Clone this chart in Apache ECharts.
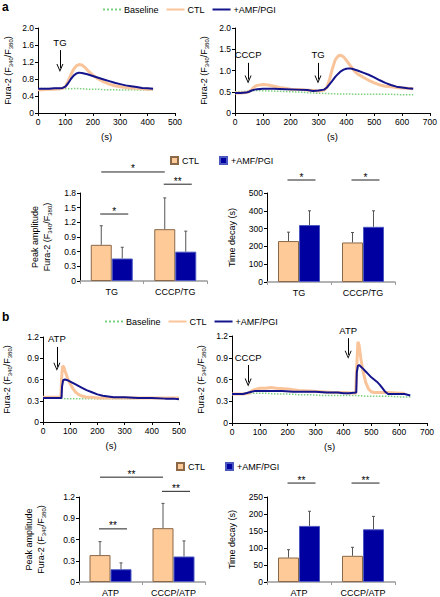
<!DOCTYPE html>
<html><head><meta charset="utf-8">
<script src="https://cdn.jsdelivr.net/npm/echarts@6/dist/echarts.min.js"></script>
<style>html,body{margin:0;padding:0;background:#fff}#c{width:440px;height:597px}</style>
</head><body><div id="c"></div>
<script>
// ---------- DATA ----------
// Panel a, TG trace: [time (s), Fura-2 ratio]
const aTG_base = [[0,0.57],[20,0.58],[40,0.57],[60,0.58],[80,0.58],[100,0.57],[120,0.57],[140,0.58],[160,0.57],[180,0.56],[200,0.56],[220,0.56],[240,0.55],[260,0.55],[280,0.55],[300,0.54],[320,0.54],[340,0.55],[360,0.54],[380,0.54],[400,0.54],[420,0.54]];
const aTG_ctl = [[0,0.55],[20,0.55],[40,0.56],[60,0.56],[80,0.57],[90,0.58],[100,0.62],[110,0.75],[120,0.9],[130,1.03],[140,1.11],[150,1.14],[160,1.13],[170,1.08],[180,1.01],[190,0.95],[200,0.89],[220,0.8],[240,0.73],[260,0.68],[280,0.64],[300,0.62],[320,0.6],[340,0.59],[360,0.58],[380,0.57],[400,0.56],[420,0.56]];
const aTG_amf = [[0,0.57],[20,0.57],[40,0.57],[60,0.58],[80,0.58],[90,0.59],[100,0.62],[110,0.7],[120,0.8],[130,0.88],[140,0.93],[150,0.95],[160,0.94],[180,0.91],[200,0.87],[220,0.83],[240,0.79],[260,0.75],[280,0.71],[300,0.68],[320,0.65],[340,0.63],[360,0.61],[380,0.59],[400,0.58],[420,0.57]];
// Panel a, CCCP/TG trace
const aCT_base = [[0,0.5],[40,0.51],[80,0.53],[120,0.52],[160,0.51],[200,0.5],[240,0.49],[280,0.47],[320,0.46],[360,0.45],[400,0.45],[440,0.44],[480,0.44],[520,0.44],[560,0.44],[600,0.43],[640,0.43]];
const aCT_ctl = [[0,0.47],[20,0.47],[40,0.48],[50,0.5],[60,0.55],[70,0.62],[80,0.65],[100,0.67],[120,0.66],[140,0.63],[160,0.6],[180,0.58],[200,0.56],[240,0.55],[280,0.53],[300,0.52],[320,0.54],[330,0.6],[340,0.8],[350,1.05],[360,1.25],[370,1.34],[380,1.36],[390,1.32],[400,1.24],[410,1.15],[420,1.06],[430,0.98],[440,0.92],[460,0.84],[480,0.77],[500,0.71],[520,0.66],[540,0.63],[560,0.62],[580,0.6],[600,0.59],[620,0.58],[640,0.57]];
const aCT_amf = [[0,0.47],[20,0.47],[40,0.48],[50,0.5],[60,0.53],[70,0.55],[80,0.56],[100,0.57],[140,0.57],[180,0.56],[220,0.55],[260,0.54],[280,0.52],[300,0.53],[320,0.55],[330,0.6],[340,0.68],[350,0.76],[360,0.85],[370,0.92],[380,0.98],[390,1.02],[400,1.04],[410,1.05],[420,1.04],[440,1.0],[460,0.95],[480,0.9],[500,0.84],[520,0.77],[540,0.71],[560,0.66],[580,0.62],[600,0.6],[620,0.58],[640,0.57]];
// Panel b, ATP trace
const bATP_base = [[0,0.35],[20,0.35],[40,0.34],[60,0.34],[80,0.33],[100,0.33],[140,0.33],[180,0.33],[220,0.33],[260,0.33],[300,0.33],[340,0.33],[380,0.34],[420,0.34],[460,0.34],[500,0.34]];
const bATP_ctl = [[0,0.35],[20,0.35],[40,0.35],[60,0.35],[66,0.36],[68,0.6],[72,0.79],[76,0.78],[80,0.73],[90,0.62],[100,0.54],[110,0.47],[120,0.42],[130,0.39],[140,0.37],[160,0.35],[180,0.35],[200,0.34],[250,0.34],[300,0.34],[350,0.34],[400,0.34],[450,0.34],[500,0.34]];
const bATP_amf = [[0,0.34],[20,0.34],[40,0.34],[60,0.34],[68,0.34],[70,0.5],[74,0.59],[80,0.6],[90,0.59],[100,0.57],[120,0.53],[140,0.49],[160,0.45],[180,0.42],[200,0.39],[220,0.37],[240,0.36],[260,0.35],[300,0.35],[350,0.34],[400,0.34],[450,0.33],[480,0.33],[500,0.32]];
// Panel b, CCCP/ATP trace
const bCA_base = [[0,0.4],[40,0.4],[80,0.41],[120,0.41],[160,0.4],[200,0.4],[240,0.39],[280,0.39],[320,0.38],[360,0.38],[400,0.38],[440,0.38],[480,0.37],[520,0.37],[560,0.37],[600,0.36],[640,0.36]];
const bCA_ctl = [[0,0.4],[40,0.4],[60,0.41],[70,0.44],[80,0.46],[100,0.48],[120,0.48],[140,0.49],[160,0.48],[200,0.47],[240,0.45],[280,0.44],[320,0.43],[360,0.42],[400,0.42],[444,0.41],[448,0.8],[452,1.12],[456,1.08],[462,0.9],[470,0.72],[480,0.56],[490,0.47],[500,0.43],[510,0.42],[530,0.42],[560,0.42],[600,0.41],[620,0.41]];
const bCA_amf = [[0,0.4],[20,0.4],[40,0.4],[50,0.41],[60,0.42],[70,0.43],[80,0.44],[100,0.44],[140,0.44],[180,0.44],[220,0.43],[260,0.43],[300,0.43],[340,0.42],[380,0.42],[400,0.41],[420,0.41],[446,0.42],[448,0.7],[452,0.79],[456,0.8],[462,0.78],[470,0.75],[480,0.71],[490,0.67],[500,0.63],[510,0.6],[520,0.57],[530,0.53],[540,0.48],[550,0.43],[560,0.4],[580,0.4],[600,0.4],[620,0.4],[630,0.39],[640,0.38]];
// Stimulus arrows: [label, time, value at arrow top, value at arrow tip]
const aTG_arrows = [['TG',80,1.48,1.06]];
const aCT_arrows = [['CCCP',47,1.18,0.79],['TG',298,1.18,0.79]];
const bATP_arrows = [['ATP',51,1.06,0.78]];
const bCA_arrows = [['CCCP',58,0.8,0.56],['ATP',417,1.17,0.94]];
// Bar charts
const aCats = ['TG','CCCP/TG'];
const bCats = ['ATP','CCCP/ATP'];
const aPeakCTL = [0.74,1.06], aPeakCTLsd = [0.39,0.64];
const aPeakAMF = [0.46,0.60], aPeakAMFsd = [0.23,0.42];
const aDecayCTL = [230,222], aDecayCTLsd = [50,56];
const aDecayAMF = [320,310], aDecayAMFsd = [80,90];
const bPeakCTL = [0.38,0.76], bPeakCTLsd = [0.19,0.35];
const bPeakAMF = [0.18,0.36], bPeakAMFsd = [0.09,0.22];
const bDecayCTL = [72,77], bDecayCTLsd = [23,25];
const bDecayAMF = [165,155], bDecayAMFsd = [43,38];
// Significance: [catA, barA(0=CTL,1=AMF), catB, barB, level, label]
const aPeakSig = [[0,0,0,1,1.37,'*'],[1,0,1,1,1.98,'**'],[0,0,1,0,2.23,'*']];
const aDecaySig = [[0,0,0,1,573,'*'],[1,0,1,1,573,'*']];
const bPeakSig = [[0,0,0,1,0.75,'**'],[1,0,1,1,1.28,'**'],[0,0,1,0,1.48,'**']];
const bDecaySig = [[0,0,0,1,291,'**'],[1,0,1,1,291,'**']];

// ---------- STYLE ----------
const F = '"Liberation Sans", Arial, Helvetica, sans-serif';
const C_ORANGE = '#f9c49a', C_BLUE = '#14148c', C_GREEN = '#7ccf7c';
const BAR_OR = '#fdca98', BAR_BL = '#0000a0';
const BW = 21;
const furaName = '{n|Fura-2 (F}{s|340}{n|/F}{s|380}{n|)}';
const nameRich = {
  n:{fontSize:9,lineHeight:12,fontFamily:F,color:'#000'},
  s:{fontSize:6,lineHeight:6,verticalAlign:'bottom',fontFamily:F,color:'#000'}
};

const grids = [
  {left:38, top:28, width:137, height:85},
  {left:235, top:28, width:195, height:85},
  {left:80, top:193, width:127, height:88},
  {left:267, top:193, width:128, height:89},
  {left:43, top:337, width:136, height:85},
  {left:232, top:336, width:195, height:87},
  {left:79, top:497, width:126, height:86},
  {left:267, top:497, width:128, height:86}
];

function fmt1(v){ return v===0 ? '0' : v.toFixed(1); }
function lineX(gi, max){
  return {type:'value', gridIndex:gi, min:0, max:max, interval:100,
    name:'(s)', nameLocation:'middle', nameGap:18,
    nameTextStyle:{fontSize:9.5, fontFamily:F, color:'#000'},
    axisLine:{show:true, onZero:false, lineStyle:{color:'#000', width:1}},
    axisTick:{show:true, length:3, lineStyle:{color:'#000'}},
    axisLabel:{fontSize:8.5, fontFamily:F, color:'#000', margin:4},
    splitLine:{show:false}};
}
function valY(gi, max, interval, name, gap, dec){
  return {type:'value', gridIndex:gi, min:0, max:max, interval:interval,
    name:name, nameLocation:'middle', nameGap:gap,
    nameTextStyle:{fontSize:9, fontFamily:F, color:'#000', rich:nameRich},
    axisLine:{show:true, lineStyle:{color:'#000', width:1}},
    axisTick:{show:true, length:3, lineStyle:{color:'#000'}},
    axisLabel:{fontSize:8.5, fontFamily:F, color:'#000', margin:4, formatter: dec ? fmt1 : (v=>String(v))},
    splitLine:{show:false}};
}
function catX(gi, cats){
  return {type:'category', gridIndex:gi, data:cats,
    axisLine:{show:true, lineStyle:{color:'#9a9a9a', width:1.5}},
    axisTick:{show:true, length:3, alignWithLabel:false, lineStyle:{color:'#9a9a9a'}},
    axisLabel:{fontSize:9, fontFamily:F, color:'#000', margin:6},
    splitLine:{show:false}};
}

function arrowMark(arr){
  return {silent:true, symbol:['none','path://M5 0 L10 8 L8.6 8 L5 2.2 L1.4 8 L0 8 Z'], symbolSize:[7,8],
    lineStyle:{color:'#000', width:1, type:'solid'},
    label:{show:true, position:'start', formatter:'{b}', fontSize:9.5, fontFamily:F, color:'#000', distance:3},
    emphasis:{disabled:true},
    data: arr.map(a => [{name:a[0], coord:[a[1],a[2]]},{coord:[a[1],a[3]]}])};
}

function traceSeries(gi, base, ctl, amf, arrows){
  return [
    {name:'Baseline', type:'line', xAxisIndex:gi, yAxisIndex:gi, data:base, symbol:'none', silent:true,
      lineStyle:{color:C_GREEN, width:1.5, type:'dotted'}, itemStyle:{color:C_GREEN}, z:2,
      markLine: arrowMark(arrows)},
    {name:'CTL', type:'line', xAxisIndex:gi, yAxisIndex:gi, data:ctl, symbol:'none', silent:true,
      lineStyle:{color:C_ORANGE, width:3}, itemStyle:{color:C_ORANGE}, z:3},
    {name:'+AMF/PGI', type:'line', xAxisIndex:gi, yAxisIndex:gi, data:amf, symbol:'none', silent:true,
      lineStyle:{color:C_BLUE, width:2}, itemStyle:{color:C_BLUE}, z:4}
  ];
}

function errSeries(gi, vals, sds, offset){
  return {type:'custom', xAxisIndex:gi, yAxisIndex:gi, silent:true, z:5, clip:false,
    data: vals.map((v,i)=>[i, v, sds[i]]),
    encode:{x:0, y:1},
    renderItem:function(params, api){
      const i = api.value(0), v = api.value(1), e = api.value(2);
      const b = api.coord([i, v]), t = api.coord([i, v+e]);
      const x = b[0] + offset;
      return {type:'group', children:[
        {type:'line', shape:{x1:x, y1:b[1], x2:x, y2:t[1]}, style:{stroke:'#555', lineWidth:1}},
        {type:'line', shape:{x1:x-1.5, y1:t[1], x2:x+1.5, y2:t[1]}, style:{stroke:'#555', lineWidth:1}}
      ]};
    }};
}

function sigSeries(gi, sig){
  return {type:'custom', xAxisIndex:gi, yAxisIndex:gi, silent:true, z:6, clip:false,
    data: sig.map(s=>[s[0],s[1],s[2],s[3],s[4]]),
    encode:{x:0, y:4},
    renderItem:function(params, api){
      const s = sig[params.dataIndex];
      const pA = api.coord([s[0], s[4]]), pB = api.coord([s[2], s[4]]);
      let x1 = pA[0] + (s[1] ? BW/2 : -BW/2);
      let x2 = pB[0] + (s[3] ? BW/2 : -BW/2);
      if (s[0] === s[2]) { x1 -= 1; x2 += 6; }
      const y = pA[1];
      return {type:'group', children:[
        {type:'line', shape:{x1:x1, y1:y, x2:x2, y2:y}, style:{stroke:'#222', lineWidth:1}},
        {type:'text', style:{text:s[5], x:(x1+x2)/2, y:y+2, align:'center', verticalAlign:'bottom',
          fontSize:10, fontFamily:F, fill:'#000'}}
      ]};
    }};
}

function barSeries(gi, ctl, ctlsd, amf, amfsd, sig){
  return [
    {name:'CTL ', type:'bar', xAxisIndex:gi, yAxisIndex:gi, data:ctl, barWidth:BW, barGap:'0%', silent:true,
      itemStyle:{color:BAR_OR, borderColor:'#8a6848', borderWidth:1}},
    {name:'+AMF/PGI ', type:'bar', xAxisIndex:gi, yAxisIndex:gi, data:amf, barWidth:BW, barGap:'0%', silent:true,
      itemStyle:{color:BAR_BL, borderColor:'#4a58c0', borderWidth:1}},
    errSeries(gi, ctl, ctlsd, -BW/2),
    errSeries(gi, amf, amfsd, BW/2),
    sigSeries(gi, sig)
  ];
}

const lineLegend = (left, top) => ({
  left:left, top:top, orient:'horizontal', selectedMode:false, itemWidth:18, itemHeight:8, itemGap:7,
  itemStyle:{opacity:0, borderWidth:0},
  textStyle:{fontSize:9, fontFamily:F, color:'#000', padding:[0,0,0,-2]},
  data:['Baseline','CTL','+AMF/PGI']
});
const barLegend = (left, top) => ({
  left:left, top:top, orient:'horizontal', selectedMode:false, itemWidth:7, itemHeight:7, itemGap:20, icon:'rect',
  textStyle:{fontSize:9, fontFamily:F, color:'#000', padding:[0,0,0,-1]},
  formatter: n => n.trim(),
  data:['CTL ','+AMF/PGI ']
});

const option = {
  animation:false,
  backgroundColor:'#fff',
  textStyle:{fontFamily:F},
  grid: grids,
  legend:[lineLegend(97,0), barLegend(165,151), lineLegend(99,312), barLegend(171,457)],
  xAxis:[
    lineX(0,500), lineX(1,700), catX(2,aCats), catX(3,aCats),
    lineX(4,500), lineX(5,700), catX(6,bCats), catX(7,bCats)
  ],
  yAxis:[
    valY(0,2.0,0.4,furaName,24,true),
    valY(1,2.0,0.5,furaName,25,true),
    valY(2,1.8,0.3,'{n|Peak amplitude}\n'+furaName,27,true),
    valY(3,500,100,'{n|Time decay (s)}',29,false),
    valY(4,1.2,0.3,furaName,30,true),
    valY(5,1.2,0.3,furaName,25,true),
    valY(6,1.2,0.3,'{n|Peak amplitude}\n'+furaName,32,true),
    valY(7,250,50,'{n|Time decay (s)}',29,false)
  ],
  series:[].concat(
    traceSeries(0, aTG_base, aTG_ctl, aTG_amf, aTG_arrows),
    traceSeries(1, aCT_base, aCT_ctl, aCT_amf, aCT_arrows),
    traceSeries(4, bATP_base, bATP_ctl, bATP_amf, bATP_arrows),
    traceSeries(5, bCA_base, bCA_ctl, bCA_amf, bCA_arrows),
    barSeries(2, aPeakCTL, aPeakCTLsd, aPeakAMF, aPeakAMFsd, aPeakSig),
    barSeries(3, aDecayCTL, aDecayCTLsd, aDecayAMF, aDecayAMFsd, aDecaySig),
    barSeries(6, bPeakCTL, bPeakCTLsd, bPeakAMF, bPeakAMFsd, bPeakSig),
    barSeries(7, bDecayCTL, bDecayCTLsd, bDecayAMF, bDecayAMFsd, bDecaySig)
  ),
  graphic:[
    {type:'text', left:2, top:1, style:{text:'a', fontSize:12, fontWeight:'bold', fontFamily:F, fill:'#000'}},
    {type:'text', left:2, top:311, style:{text:'b', fontSize:12, fontWeight:'bold', fontFamily:F, fill:'#000'}}
  ]
};

const chart = echarts.init(document.getElementById('c'), null, {renderer:'svg', width:440, height:597});
chart.setOption(option);
</script>
</body></html>
